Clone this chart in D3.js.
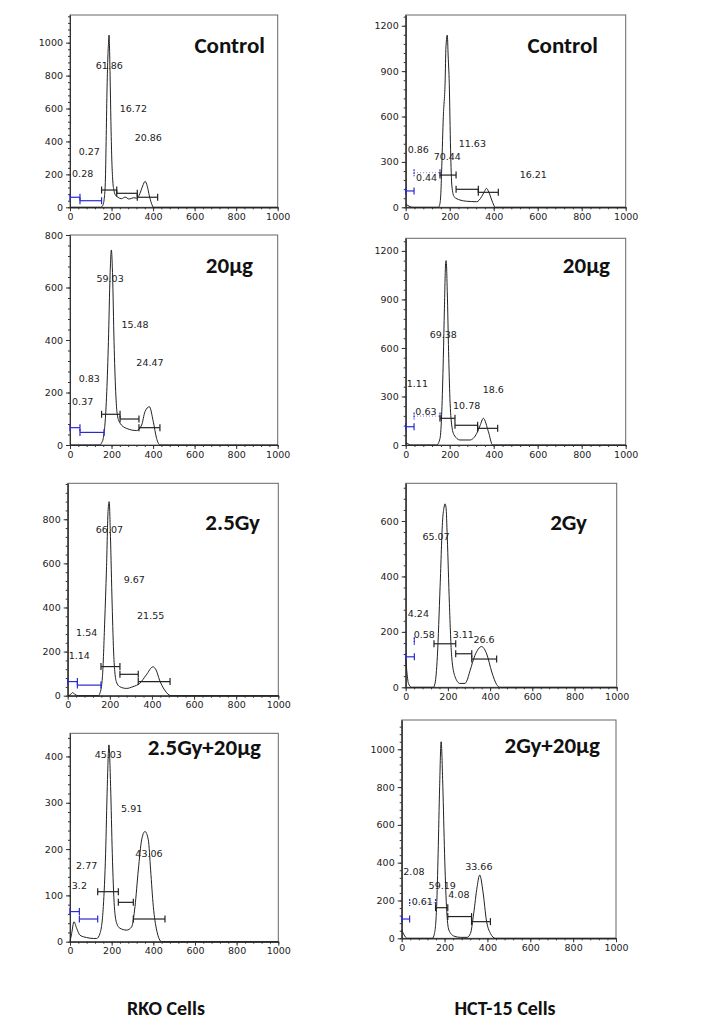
<!DOCTYPE html>
<html>
	<head>
		<meta charset="utf-8">
		<script type="text/javascript" src="https://cdn.jsdelivr.net/npm/d3@7/dist/d3.min.js"></script>
		<style>
		body {
			margin: 0;
			background: white;
		}
		.axis text {
			font: 9.5px "DejaVu Sans", sans-serif;
			fill: #222;
		}
		.axis path, .axis line {
			stroke: #333;
		}
		.pct {
			font: 9.5px "DejaVu Sans", sans-serif;
			fill: #222;
			text-anchor: middle;
		}
		.title, .cells {
			font-family: Carlito, Lato, sans-serif;
			font-weight: 700;
			fill: #111;
		}
		</style>
	</head>
	<body>
		<script type="text/javascript">
			// panel titles and cell lines
			var rkoConditions = ["Control", "20μg", "2.5Gy", "2.5Gy+20μg"];
			var hctConditions = ["Control", "20μg", "2Gy", "2Gy+20μg"];
			var cellLines = ["RKO Cells", "HCT-15 Cells"];

			var xTicks = [0, 200, 400, 600, 800, 1000];
			var rkoYTicks = [
				[0, 200, 400, 600, 800, 1000],
				[0, 200, 400, 600, 800],
				[0, 200, 400, 600, 800],
				[0, 100, 200, 300, 400]
			];
			var hctYTicks = [
				[0, 300, 600, 900, 1200],
				[0, 300, 600, 900, 1200],
				[0, 200, 400, 600],
				[0, 200, 400, 600, 800, 1000]
			];

			// DNA content histograms [channel, count]
			var rkoControlHist = [[0,0],[148,0],[158,12],[165,55],[170,150],[174,400],[178,700],[182,900],[186,1010],[188,1046],[190,985],[193,800],[197,520],[201,300],[206,160],[212,100],[220,72],[232,60],[248,52],[265,62],[285,50],[305,58],[322,56],[336,82],[350,130],[362,158],[372,128],[382,70],[392,25],[402,0],[1000,0]];
			var rkoDrugHist = [[0,0],[144,0],[152,8],[160,25],[168,76],[177,203],[185,394],[193,648],[199,743],[205,648],[212,394],[220,203],[228,114],[241,83],[273,63],[321,55],[345,76],[361,127],[382,146],[401,89],[417,25],[433,0],[1000,0]];
			var rkoIrrHist = [[0,0],[11,3],[23,14],[34,6],[50,0],[145,0],[153,11],[165,86],[176,343],[184,570],[192,843],[197,880],[203,721],[211,416],[219,177],[231,63],[247,41],[279,33],[310,41],[342,56],[373,94],[405,131],[420,116],[436,71],[460,26],[491,0],[1000,0]];
			var rkoComboHist = [[0,0],[8,18],[19,43],[32,29],[48,14],[80,9],[112,7],[128,7],[144,18],[160,76],[171,191],[179,335],[187,425],[195,335],[203,191],[213,76],[224,40],[240,29],[272,25],[296,32],[312,76],[328,155],[344,220],[360,238],[376,220],[387,155],[400,76],[416,25],[440,0],[1000,0]];

			var hctControlHist = [[0,18],[10,12],[20,4],[35,0],[148,0],[155,20],[160,100],[164,270],[171,600],[179,820],[183,1060],[189,1138],[193,1000],[198,820],[204,380],[210,140],[220,70],[247,48],[277,40],[323,37],[345,70],[358,105],[367,125],[378,100],[391,48],[400,15],[406,0],[1000,0]];
			var hctDrugHist = [[0,12],[10,8],[20,0],[141,0],[156,41],[164,206],[171,536],[176,845],[182,1134],[184,1140],[189,948],[195,577],[201,289],[209,124],[220,62],[247,31],[292,31],[323,72],[338,120],[353,165],[376,82],[395,0],[1000,0]];
			var hctIrrHist = [[0,100],[5,60],[13,14],[28,0],[131,0],[139,14],[150,110],[163,363],[175,604],[182,650],[186,662],[191,650],[197,543],[207,303],[218,110],[234,38],[257,14],[281,14],[289,22],[305,60],[328,115],[360,147],[384,120],[408,55],[431,10],[447,0],[1000,0]];
			var hctComboHist = [[0,44],[11,18],[26,0],[143,0],[153,26],[163,168],[170,450],[177,802],[184,1040],[192,802],[200,450],[209,168],[220,44],[243,12],[274,5],[305,5],[321,26],[336,132],[352,273],[364,335],[380,240],[395,97],[414,26],[437,0],[1000,0]];

			// gates [from, to, level]: two sub-G1 markers, then G1, S, G2
			var rkoControlGates = [[0,48,61],[48,152,40],[152,225,105],[225,324,85],[324,422,61]];
			var rkoDrugGates = [[0,48,66],[48,164,48],[152,241,117],[241,332,99],[332,433,66]];
			var rkoIrrGates = [[0,46,64],[46,158,48],[158,248,132],[248,335,97],[335,486,64]];
			var rkoComboGates = [[0,45,65],[45,133,49],[133,232,108],[232,304,85],[304,456,49]];
			var hctControlGates = [[0,38,108],[38,156,229],[156,229,213],[229,330,119],[330,421,99]];
			var hctDrugGates = [[0,38,113],[38,156,179],[156,224,165],[224,327,122],[327,418,103]];
			var hctIrrGates = [[0,41,110],[41,41,167],[134,237,157],[237,313,121],[313,431,102]];
			var hctComboGates = [[0,37,102],[37,158,189],[158,215,162],[215,326,115],[326,414,88]];

			// percentages (G1, S, G2, sub-G1 a, sub-G1 b) and where they sit in data units
			var rkoControlPct = ["61.86", "16.72", "20.86", "0.27", "0.28"];
			var rkoControlPctAt = [[189,860],[305,601],[377,423],[93,338],[61,206]];
			var rkoDrugPct = ["59.03", "15.48", "24.47", "0.83", "0.37"];
			var rkoDrugPctAt = [[193,635],[313,457],[385,314],[93,251],[61,165]];
			var rkoIrrPct = ["66.07", "9.67", "21.55", "1.54", "1.14"];
			var rkoIrrPctAt = [[198,752],[316,528],[394,363],[90,286],[55,180]];
			var rkoComboPct = ["45.03", "5.91", "43.06", "2.77", "3.2"];
			var rkoComboPctAt = [[184,404],[296,288],[379,191],[80,164],[45,121]];
			var hctControlPct = ["70.44", "11.63", "16.21", "0.86", "0.44"];
			var hctControlPctAt = [[189,335],[303,423],[580,218],[57,379],[95,196]];
			var hctDrugPct = ["69.38", "10.78", "18.6", "1.11", "0.63"];
			var hctDrugPctAt = [[171,680],[277,245],[398,344],[53,379],[92,206]];
			var hctIrrPct = ["65.07", "3.11", "26.6", "4.24", "0.58"];
			var hctIrrPctAt = [[144,543],[273,191],[371,173],[60,267],[88,191]];
			var hctComboPct = ["59.19", "4.08", "33.66", "2.08", "0.61"];
			var hctComboPctAt = [[189,279],[267,229],[360,379],[57,353],[96,194]];

			var svg = d3.select("body").append("svg")
				.attr("width", 714)
				.attr("height", 1035);

			// panel boxes in pixels: x of 0 and 1000, top, y of 0, count at top of box, title end and baseline
			var boxes = [
				{x0: 70, x1: 277.7, top: 15, bottom: 207.3, ymax: 1168, tx: 265, ty: 53},
				{x0: 70, x1: 277.7, top: 235, bottom: 445, ymax: 800, tx: 253, ty: 273},
				{x0: 67.7, x1: 278.3, top: 483.3, bottom: 695.7, ymax: 963, tx: 260, ty: 530},
				{x0: 70, x1: 278.3, top: 733.3, bottom: 941.7, ymax: 450, tx: 261, ty: 755},
				{x0: 405.7, x1: 625.7, top: 15, bottom: 207.3, ymax: 1271, tx: 598, ty: 53},
				{x0: 405.7, x1: 625.7, top: 238.3, bottom: 445, ymax: 1278, tx: 610, ty: 273},
				{x0: 405.7, x1: 616.7, top: 483.3, bottom: 687.3, ymax: 736, tx: 587, ty: 530},
				{x0: 401.7, x1: 616, top: 720, bottom: 938.3, ymax: 1155, tx: 600, ty: 753}
			];

			var panels = [
				{title: rkoConditions[0], hist: rkoControlHist, gates: rkoControlGates, pct: rkoControlPct, at: rkoControlPctAt, yTicks: rkoYTicks[0], hct: false},
				{title: rkoConditions[1], hist: rkoDrugHist, gates: rkoDrugGates, pct: rkoDrugPct, at: rkoDrugPctAt, yTicks: rkoYTicks[1], hct: false},
				{title: rkoConditions[2], hist: rkoIrrHist, gates: rkoIrrGates, pct: rkoIrrPct, at: rkoIrrPctAt, yTicks: rkoYTicks[2], hct: false},
				{title: rkoConditions[3], hist: rkoComboHist, gates: rkoComboGates, pct: rkoComboPct, at: rkoComboPctAt, yTicks: rkoYTicks[3], hct: false},
				{title: hctConditions[0], hist: hctControlHist, gates: hctControlGates, pct: hctControlPct, at: hctControlPctAt, yTicks: hctYTicks[0], hct: true},
				{title: hctConditions[1], hist: hctDrugHist, gates: hctDrugGates, pct: hctDrugPct, at: hctDrugPctAt, yTicks: hctYTicks[1], hct: true},
				{title: hctConditions[2], hist: hctIrrHist, gates: hctIrrGates, pct: hctIrrPct, at: hctIrrPctAt, yTicks: hctYTicks[2], hct: true},
				{title: hctConditions[3], hist: hctComboHist, gates: hctComboGates, pct: hctComboPct, at: hctComboPctAt, yTicks: hctYTicks[3], hct: true}
			];

			panels.forEach(function(p, i) {
				var b = boxes[i];
				var x = d3.scaleLinear().domain([0, 1000]).range([b.x0, b.x1]);
				var y = d3.scaleLinear().domain([0, b.ymax]).range([b.bottom, b.top]);
				var g = svg.append("g");

				var step = p.yTicks[1] - p.yTicks[0];
				var yMinor = d3.range(0, b.ymax, step / 5);
				var xMinor = d3.range(0, 1001, 40);

				g.append("rect")
					.attr("x", b.x0)
					.attr("y", b.top)
					.attr("width", b.x1 - b.x0)
					.attr("height", b.bottom - b.top)
					.attr("fill", "none")
					.attr("stroke", "#666");

				g.append("g")
					.attr("class", "axis")
					.attr("transform", "translate(" + b.x0 + ",0)")
					.call(d3.axisLeft(y).tickValues(yMinor).tickSize(2).tickSizeOuter(0).tickFormat(""));
				g.append("g")
					.attr("class", "axis")
					.attr("transform", "translate(" + b.x0 + ",0)")
					.call(d3.axisLeft(y).tickValues(p.yTicks).tickSize(4).tickSizeOuter(0).tickPadding(3).tickFormat(d3.format("d")));
				g.append("g")
					.attr("class", "axis")
					.attr("transform", "translate(0," + b.bottom + ")")
					.call(d3.axisBottom(x).tickValues(xMinor).tickSize(2).tickSizeOuter(0).tickFormat(""));
				g.append("g")
					.attr("class", "axis")
					.attr("transform", "translate(0," + b.bottom + ")")
					.call(d3.axisBottom(x).tickValues(xTicks).tickSize(4).tickSizeOuter(0).tickPadding(2).tickFormat(d3.format("d")));

				var line = d3.line()
					.x(function(d) { return x(d[0]); })
					.y(function(d) { return y(d[1]); })
					.curve(d3.curveMonotoneX);

				g.append("path")
					.datum(p.hist)
					.attr("d", line)
					.attr("fill", "none")
					.attr("stroke", "#222")
					.attr("stroke-width", 1);

				var gate = g.selectAll(".gate")
					.data(p.gates)
				  .enter().append("g")
					.attr("class", "gate")
					.attr("stroke", function(d, k) {
						if (k > 1) return "#222";
						if (k == 1 && p.hct) return "#8fa0e8";
						return "#2a2ad0";
					})
					.attr("stroke-width", 1.2);

				gate.append("line")
					.attr("x1", function(d) { return x(d[0]); })
					.attr("x2", function(d) { return x(d[1]); })
					.attr("y1", function(d) { return y(d[2]); })
					.attr("y2", function(d) { return y(d[2]); })
					.attr("stroke-dasharray", function(d, k) { return (k == 1 && p.hct) ? "1,2" : null; });

				gate.selectAll(".end")
					.data(function(d, k) {
						return [d[0], d[1]].map(function(v) { return {v: v, lvl: d[2], k: k}; });
					})
				  .enter().append("line")
					.attr("x1", function(d) { return x(d.v); })
					.attr("x2", function(d) { return x(d.v); })
					.attr("y1", function(d) { return y(d.lvl) - 3.5; })
					.attr("y2", function(d) { return y(d.lvl) + 3.5; })
					.attr("stroke", function(d) { return (d.k == 1 && p.hct) ? "#2a2ad0" : null; })
					.attr("stroke-dasharray", function(d) { return (d.k == 1 && p.hct) ? "2,1" : null; });

				g.selectAll(".pct")
					.data(p.pct)
				  .enter().append("text")
					.attr("class", "pct")
					.attr("x", function(d, k) { return x(p.at[k][0]); })
					.attr("y", function(d, k) { return y(p.at[k][1]); })
					.attr("dy", "0.35em")
					.text(function(d) { return d; });

				g.append("text")
					.attr("class", "title")
					.attr("x", b.tx)
					.attr("y", b.ty)
					.attr("text-anchor", "end")
					.style("font-size", "23px")
					.text(p.title);
			});

			svg.selectAll(".cells")
				.data(cellLines)
			  .enter().append("text")
				.attr("class", "cells")
				.attr("x", function(d, i) { return i == 0 ? 166 : 505; })
				.attr("y", 1015)
				.attr("text-anchor", "middle")
				.style("font-size", "20px")
				.text(function(d) { return d; });
		</script>
	</body>
</html>
